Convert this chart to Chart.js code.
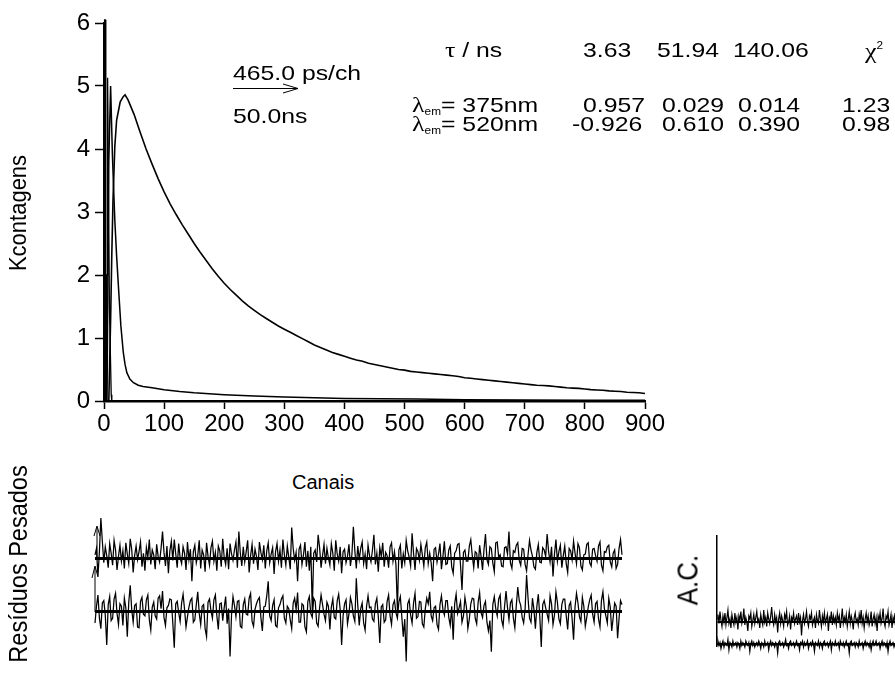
<!DOCTYPE html>
<html>
<head>
<meta charset="utf-8">
<script src="https://cdn.jsdelivr.net/npm/chart.js@4.4.1/dist/chart.umd.min.js"></script>
<style>
  body { margin: 0; width: 895px; height: 693px; overflow: hidden; background: #fff; position: relative;
         font-family: "Liberation Sans", Arial, sans-serif; color: #000; }
  canvas { position: absolute; }
  .t { position: absolute; font-size: 21px; line-height: 21px; white-space: nowrap;
       transform-origin: 0 0; transform: scaleX(1.18); }
  .t sub { font-size: 10px; vertical-align: -3px; }
  .t sup { font-size: 10px; vertical-align: 9px; }
  .g { font-family: "Liberation Serif", serif; font-size: 22px; }
  .v { position: absolute; font-size: 22px; line-height: 22px; white-space: nowrap;
       transform: translate(-50%, -50%) rotate(-90deg) scaleY(1.1); }
</style>
</head>
<body>
<canvas id="main" width="680" height="445" style="left:0;top:0"></canvas>
<canvas id="res" width="550" height="175" style="left:85px;top:500px"></canvas>
<canvas id="ac" width="205" height="140" style="left:690px;top:520px"></canvas>

<div class="v" style="left:18px;top:213px">Kcontagens</div>
<div class="t" style="left:292px;top:472px;transform:none;font-size:20px">Canais</div>
<div class="v" style="left:18px;top:564px;font-size:23.5px">Resíduos Pesados</div>
<div class="v" style="left:688px;top:580px;font-size:26px">A.C.</div>

<div class="t" style="left:233px;top:62px">465.0 ps/ch</div>
<div class="t" style="left:233px;top:105px">50.0ns</div>
<svg style="position:absolute;left:0;top:0" width="895" height="693">
  <g stroke="#000" stroke-width="1" fill="none">
    <path d="M233 88.5 H298 M283 84 L298 88.5 L283 93"/>
    <path d="M97 560 V527 M94 536 L97 526 L100 536"/>
    <path d="M95 612 V567 M92 578 L95 566 L98 577"/>
  </g>
</svg>

<div class="t" style="left:445px;top:39px"><span class="g">τ</span> / ns</div>
<div class="t" style="left:583px;top:39px">3.63</div>
<div class="t" style="left:657px;top:39px">51.94</div>
<div class="t" style="left:733px;top:39px">140.06</div>
<div class="t" style="left:865px;top:35px"><span class="g">χ</span><sup>2</sup></div>

<div class="t" style="left:412px;top:94px"><span class="g">λ</span><sub>em</sub>= 375nm</div>
<div class="t" style="left:583px;top:94px">0.957</div>
<div class="t" style="left:662px;top:94px">0.029</div>
<div class="t" style="left:738px;top:94px">0.014</div>
<div class="t" style="left:842px;top:94px">1.23</div>

<div class="t" style="left:412px;top:113px"><span class="g">λ</span><sub>em</sub>= 520nm</div>
<div class="t" style="left:572px;top:113px">-0.926</div>
<div class="t" style="left:662px;top:113px">0.610</div>
<div class="t" style="left:738px;top:113px">0.390</div>
<div class="t" style="left:842px;top:113px">0.98</div>

<script>
// decay curves (Kcontagens vs canal)
const irfChannels = [0, 1, 2, 3, 4, 5, 6, 7, 9, 12, 13, 900];
const irfCounts   = [0, 6.05, 6.05, 0, 0, 2.0, 5.13, 4.0, 1.5, 0.1, 0, 0];

const fastChannels = [5, 8, 11, 14, 18, 21, 24, 28, 32, 35, 38, 43, 49, 57, 65, 80, 100, 126, 150, 200, 250, 300, 350, 400, 460, 520, 600, 700, 800, 900];
const fastCounts   = [0, 3.8, 5.0, 3.9, 2.87, 2.3, 1.82, 1.2, 0.78, 0.58, 0.45, 0.35, 0.29, 0.25, 0.23, 0.21, 0.18, 0.15, 0.13, 0.10, 0.08, 0.065, 0.05, 0.04, 0.035, 0.03, 0.02, 0.015, 0.01, 0.01];

const slowChannels = [8, 11, 13, 15, 18, 21, 27, 32, 35,
  40, 50, 60, 70, 80, 90, 100, 110, 120, 130, 140, 150, 160, 170, 180, 190, 200,
  210, 220, 230, 240, 250, 260, 270, 280, 290, 300, 310, 320, 330, 340, 350, 360, 370, 380, 390, 400,
  410, 420, 430, 440, 450, 460, 470, 480, 490, 500, 510, 520, 530, 540, 550, 560, 570, 580, 590, 600,
  610, 620, 630, 640, 650, 660, 670, 680, 690, 700, 710, 720, 730, 740, 750, 760, 770, 780, 790, 800,
  810, 820, 830, 840, 850, 860, 870, 880, 890, 900];
const slowCounts = [0, 1.29, 2.34, 3.2, 4.04, 4.46, 4.75, 4.83, 4.86,
  4.78, 4.55, 4.27, 4.0, 3.76, 3.53, 3.32, 3.13, 2.96, 2.80, 2.65, 2.50, 2.36, 2.23, 2.10, 1.98, 1.87,
  1.77, 1.68, 1.59, 1.51, 1.44, 1.37, 1.31, 1.25, 1.19, 1.14, 1.09, 1.04, 0.99, 0.94, 0.89, 0.85, 0.81, 0.77, 0.74, 0.71,
  0.68, 0.65, 0.63, 0.60, 0.58, 0.56, 0.54, 0.52, 0.50, 0.49, 0.47, 0.46, 0.45, 0.44, 0.43, 0.42, 0.41, 0.40, 0.39, 0.37,
  0.36, 0.35, 0.34, 0.33, 0.32, 0.31, 0.30, 0.29, 0.28, 0.27, 0.26, 0.25, 0.245, 0.24, 0.23, 0.22, 0.21, 0.205, 0.20, 0.19,
  0.18, 0.175, 0.17, 0.16, 0.155, 0.15, 0.14, 0.135, 0.13, 0.12];

// weighted residuals, one value every 2.5 channels
const resStep = 2.5;
const resTop = [
  0.4, 1.2, -2.3, 0.8, 5.0, 2.1, -0.6, 1.4, 0.3, -1.2, 1.8, 0.6, -0.9, 2.2, 1.0, -1.5, 0.2, 1.6, -0.4, 0.9,
  -1.3, 1.9, 0.5, -0.7, 2.4, 1.1, -1.8, 0.3, 1.5, -0.2, 0.8, 2.0, -1.1, 0.6, -1.6, 1.3, 0.1, 2.3, -0.8, 1.0,
  0.4, -1.4, 1.7, 0.2, -0.5, 1.2, 3.3, 0.7, -1.0, 1.5, -1.9, 0.9, 2.1, -0.3, 2.3, 0.5, -1.2, 1.8, 0.0, -0.7,
  1.4, 0.6, -1.5, 2.0, -0.2, 1.1, -2.9, 0.8, 1.6, -0.6, 0.3, 2.2, -1.3, 1.0, 0.4, -1.7, 1.9, 0.2, -0.9, 1.3,
  2.1, -0.4, 0.7, -1.6, 1.5, 0.9, -1.1, 2.4, 0.1, -0.8, 1.2, -1.4, 1.8, 0.5, -0.3, 1.0, 2.0, -1.2, 3.3, 0.6,
  -1.0, 1.4, -0.5, 0.8, 2.2, -1.8, 0.3, 1.7, -0.7, 1.1, 0.2, -1.5, 2.0, 0.7, -0.2, 1.6, -1.3, 0.9, 1.9, -0.6,
  0.5, 1.3, -2.0, 0.8, 1.8, -0.4, 1.0, -1.2, 2.3, 0.4, -0.9, 1.5, 0.1, -1.4, 3.8, 1.2, -0.3, 0.7, -2.9, 1.1,
  1.6, -0.8, 0.4, 2.0, -1.1, 0.9, -1.6, 1.4, -6.5, 0.6, 1.0, -0.5, 2.9, 1.3, -1.2, 0.3, 1.7, -0.7, 1.2, 0.0,
  -0.9, 1.8, 0.6, -1.6, 2.2, 0.5, -0.4, 1.4, -1.9, 0.8, 1.1, -0.6, 0.2, 1.7, -1.0, 0.4, 3.9, 0.9, -1.3, 1.5,
  -0.2, 1.2, 2.0, -0.7, 0.5, -1.4, 1.6, 0.3, -0.5, 1.0, 2.9, -0.8, 0.6, -1.7, 1.3, 0.2, 1.9, -1.1, 0.7, 0.3,
  -1.2, 1.4, 1.9, -0.4, 0.8, -0.8, -6.5, 1.0, 1.6, -1.3, 0.5, -0.6, 2.2, 0.9, 0.1, -1.0, 3.1, 0.6, -1.5, 1.2,
  0.8, -0.3, 1.7, 0.4, -1.0, 1.3, 2.0, -0.7, 0.6, -0.6, -2.9, 1.1, 1.3, -0.5, 0.5, 1.8, -1.4, 0.2, 2.1, -0.8,
  -0.7, 1.0, 1.5, -1.1, -1.9, 0.6, 0.9, 1.7, 1.8, -0.9, -4.0, 0.7, 1.0, -0.4, -0.4, 1.5, 2.3, 0.3, -1.2, 0.8,
  0.6, -1.3, 1.6, 0.2, -1.5, 1.1, 3.0, -0.2, -0.8, 1.4, 1.2, -0.6, -1.7, 1.9, 2.0, 0.1, 0.4, -1.0, -1.1, 1.3,
  1.4, 0.5, 3.3, -0.6, -1.3, 0.9, 0.7, 1.6, 1.9, -0.3, -0.9, 1.2, 1.1, -0.8, -1.6, 0.4, 2.2, 1.0, 0.2, -1.1,
  -1.4, 0.7, 1.7, -0.5, -0.6, 1.3, 1.0, 0.2, 3.0, 0.8, -0.5, 1.4, -2.3, 0.5, 2.3, -0.4, 0.8, 1.6, -1.2, 0.3,
  1.5, -0.7, -1.8, 1.2, 0.9, -0.2, 2.1, 0.6, -0.7, 1.8, 1.3, -1.0, -1.5, 0.4, 0.5, 1.7, 1.9, -0.6, -1.0, 1.1,
  1.2, 0.3, -0.4, 1.5, 2.0, -0.9, -1.6, 0.8, 0.7, 1.4, 1.6, -0.5, -1.1, 0.6, 1.0, -1.3, -0.8, 1.2, 2.3, 0.4];
const resBottom = [
  -1.5, 0.6, 2.0, -0.9, -2.2, 1.0, 1.3, -0.5, -4.25, 0.8, 1.8, -1.2, -0.9, 1.5, 2.2, -0.3, -1.7, 0.9, 0.6, -1.8,
  1.6, 0.4, -3.2, 1.1, 3.2, 0.2, -1.4, 0.7, 0.9, -2.0, -2.1, 1.2, 1.7, -0.4, -0.6, 1.4, 2.0, -1.1, -2.4, 0.5,
  1.1, -0.6, -1.0, 1.6, 1.9, 0.3, 2.5, -0.8, -1.8, 0.4, 0.7, 1.5, 1.4, -1.5, -4.6, 0.9, 1.2, -0.2, -1.3, 1.0,
  2.1, 0.2, -2.0, -0.7, 0.5, 1.3, 1.6, -1.4, -1.1, 0.8, 2.4, -0.3, -1.7, 0.6, 0.8, -2.2, -3.2, 1.1, 1.5, 0.0,
  -0.9, 1.4, 2.0, -0.6, -2.3, 0.9, 1.0, -1.2, 0.4, 1.8, -1.6, 0.3, -5.7, -0.5, 1.8, 0.7, -0.7, 1.2, 1.3, -1.9,
  -2.1, 0.8, 1.5, -0.4, -0.5, 1.6, 2.2, -1.3, -1.9, 0.2, 0.9, 1.4, 1.7, -0.8, -2.5, 0.5, 0.6, 1.9, 3.7, -0.6,
  -1.2, 0.7, 1.4, -1.8, -2.0, 0.4, 0.8, 1.5, 1.9, -0.9, -1.5, 0.6, 0.3, -1.1, -2.2, 1.0, 1.6, 0.2, 2.3, -1.4,
  -1.4, 0.9, 0.7, -2.0, -2.6, 1.2, 1.8, -0.3, -0.8, 1.6, 1.2, -1.5, -1.9, 0.4, 2.0, 0.8, -0.4, -1.2, 1.1, 0.6,
  -2.3, 0.5, 1.5, -0.8, -1.0, 1.3, 2.1, 0.2, -4.25, -0.6, 0.9, 1.4, -1.6, -0.4, 1.7, 0.9, -0.6, -1.3, 4.1, 0.7,
  -1.8, 0.3, 1.0, -1.5, -2.4, 0.6, 1.9, 0.4, 0.5, -1.0, -1.3, 0.9, 1.6, -0.7, -4.0, 0.5, 0.8, -1.4, -1.1, 1.2,
  2.0, -0.6, -1.7, 0.8, 1.3, -0.2, -0.9, 1.1, 1.8, -0.7, -3.2, -1.0, -6.3, 0.9, 1.4, -0.5, -1.5, 1.0, 2.2, -0.9,
  -0.7, 1.2, 1.1, -1.6, -2.0, 0.3, 1.6, 0.9, 2.4, -0.6, -1.2, 0.4, 0.6, -1.7, -2.3, 0.8, 1.9, 0.2, -0.5, 1.3,
  1.3, -0.8, -1.8, 0.6, -3.6, 0.9, 2.1, -0.3, 0.4, 1.2, -1.4, -0.6, 1.7, 0.5, -2.2, -1.0, 0.9, 1.6, 1.5, -0.9,
  -1.6, 1.1, 2.3, -0.2, -0.8, 0.7, 1.2, -1.4, -2.5, -1.2, -5.1, 0.8, 1.8, 0.3, -0.6, 1.5, 2.0, -1.1, -1.9, 0.6,
  2.5, 0.4, -1.1, 1.0, 1.4, -0.9, -2.1, 0.7, 3.0, 1.3, 0.7, -0.8, -1.5, 0.3, 4.5, 1.6, -0.9, -1.4, 1.6, 0.2,
  -2.2, 0.6, 2.1, -0.7, -4.5, 0.8, 1.3, 0.4, -0.4, -1.2, 1.9, 0.9, -1.7, -0.5, 2.4, 1.1, -1.0, -1.6, 0.8, 1.5,
  1.5, -0.6, -2.3, 0.7, 1.1, -0.9, -3.6, 0.5, 2.2, 1.0, -0.7, -1.3, 1.7, 0.6, -1.9, -0.8, 0.5, 1.4, 2.0, -0.4,
  -1.4, 0.9, 1.2, -1.0, -2.0, 1.3, 2.4, 0.3, -0.6, -1.5, 1.6, 0.5, -2.5, -0.8, 1.0, 0.6, -3.4, -0.9, 1.3, 0.8];

// autocorrelation of the residuals (visible part), x 1000
const acTop = [
  2, 5, -1, 7, 1, -3, 4, 0, 6, -2, 3, 8, -1, 2, -4, 5, 1, -2, 6, 0,
  3, -5, 4, 1, 7, -1, 2, 9, -2, 3, 0, -6, 4, 2, 6, -3, 1, 5, -1, 3,
  7, 0, 2, -4, 5, 1, -2, 8, 0, 3, -3, 6, 2, -1, 4, 10, 1, -2, 5, 0,
  3, -7, 2, 6, -1, 4, 1, -3, 5, 2, 7, -2, 0, 4, -5, 3, 1, 6, -1, 2,
  4, -2, 6, 0, 3, -9, 1, 5, -1, 2, 7, 0, -3, 4, 2, 6, -2, 1, 3, -4,
  5, 1, -1, 8, 2, -3, 4, 0, 6, -1, 2, 5, -6, 3, 1, 7, -2, 4, 0, 3,
  -2, 6, 1, 4, -4, 2, 9, -1, 3, 0, 5, -3, 2, 7, -1, 4, 1, -5, 3, 6,
  0, 2, -2, 5, 1, 8, -1, 3, -4, 2, 6, 0, 4, -2, 1, 7, -3, 2, 5, -1,
  3, -6, 4, 1, 6, -1, 2, 9, 0, -3, 4, 2, 7, -2, 1, 5, -4, 3, 0, 6];
const acBottom = [
  0, 2, -1, 1, -3, 0, 2, -2, 1, 0, -1, 3, -4, 1, 0, -2, 2, -1, 0, 1,
  -2, 1, 0, -3, 2, -1, 1, 0, -2, 2, 0, -1, 1, -5, 0, 2, -1, 1, -2, 0,
  1, -1, 2, 0, -3, 1, 0, -2, 2, -1, 0, 1, -4, 0, 2, -1, 1, 0, -2, 1,
  0, -6, 1, 2, -1, 0, 1, -2, 0, 3, -1, 0, -3, 1, 2, -1, 0, 1, -2, 0,
  2, -1, 0, -4, 1, 0, 2, -2, 1, -1, 0, 2, -3, 0, 1, -1, 2, 0, -5, 1,
  0, -1, 2, -2, 1, 0, -3, 1, 2, -1, 0, 1, -2, 0, 2, -4, 1, 0, -1, 2,
  -1, 0, 1, -3, 2, 0, -1, 1, -2, 0, 2, -1, 0, -6, 1, 2, -1, 0, 1, -2,
  1, 0, -2, 2, -1, 0, 1, -3, 0, 2, -1, 1, 0, -2, 1, -4, 0, 2, -1, 0,
  2, -1, 0, 1, -3, 0, 2, -1, 1, 0, -2, 1, -5, 0, 2, -1, 0, 1, -2, 0];

const black = '#000';
const tickFont = { family: 'Liberation Sans', size: 24 };

function curve(xs, ys, yAxisID, width) {
  return {
    data: xs.map((x, i) => ({ x: x, y: ys[i] })),
    yAxisID: yAxisID,
    showLine: true,
    borderColor: black,
    borderWidth: width,
    pointRadius: 0,
    fill: false,
    clip: false
  };
}

function zeroLineAxis(min, max, width) {
  return {
    min: min, max: max, position: 'left',
    ticks: { display: false },
    grid: { drawOnChartArea: true, drawTicks: false, color: black, lineWidth: width },
    border: { display: false },
    afterBuildTicks: s => { s.ticks = [{ value: 0 }]; },
    afterFit: s => { s.width = 0; }
  };
}

const common = {
  responsive: false,
  animation: false,
  devicePixelRatio: 1,
  plugins: { legend: { display: false }, tooltip: { enabled: false } }
};

// main decay plot
new Chart(document.getElementById('main'), {
  type: 'scatter',
  data: {
    datasets: [
      curve(irfChannels, irfCounts, 'y', 1.3),
      curve(fastChannels, fastCounts, 'y', 1.5),
      curve(slowChannels, slowCounts, 'y', 1.6)
    ]
  },
  options: {
    ...common,
    layout: { padding: { left: 0, top: 23, right: 35, bottom: 0 } },
    scales: {
      x: {
        type: 'linear', min: 0, max: 900,
        ticks: { stepSize: 100, color: black, font: tickFont, padding: 1, maxRotation: 0 },
        grid: { drawOnChartArea: false, drawTicks: true, tickLength: 8, tickColor: black, tickWidth: 1.5 },
        border: { display: true, color: black, width: 2.5 },
        afterFit: s => { s.height = 44; }
      },
      y: {
        type: 'linear', min: 0, max: 6,
        ticks: { stepSize: 1, color: black, font: tickFont, padding: 5 },
        grid: { drawOnChartArea: false, drawTicks: true, tickLength: 9, tickColor: black, tickWidth: 1.5 },
        border: { display: true, color: black, width: 2.5 },
        afterFit: s => { s.width = 104; }
      }
    }
  }
});

// weighted residuals
new Chart(document.getElementById('res'), {
  type: 'scatter',
  data: {
    datasets: [
      curve(resTop.map((v, i) => i * resStep), resTop, 'yTop', 1.25),
      curve(resBottom.map((v, i) => i * resStep), resBottom, 'yBot', 1.25)
    ]
  },
  options: {
    ...common,
    layout: { padding: { left: 10, top: 5, right: 13, bottom: 10 } },
    scales: {
      x: { type: 'linear', display: false, min: 0, max: (resTop.length - 1) * resStep },
      yTop: zeroLineAxis(-13.375, 6.625, 3),
      yBot: zeroLineAxis(-6.75, 13.25, 3)
    }
  }
});

// autocorrelation
const acAxisTop = zeroLineAxis(-16, 57.3, 2);
acAxisTop.border = { display: true, color: black, width: 1.5 };
new Chart(document.getElementById('ac'), {
  type: 'scatter',
  data: {
    datasets: [
      curve(acTop.map((v, i) => i), acTop, 'yA', 1.2),
      curve(acBottom.map((v, i) => i), acBottom, 'yB', 1.2)
    ]
  },
  options: {
    ...common,
    layout: { padding: { left: 27, top: 16, right: 0, bottom: 14 } },
    scales: {
      x: { type: 'linear', display: false, min: 0, max: acTop.length - 1 },
      yA: acAxisTop,
      yB: zeroLineAxis(-1.33, 72, 2.5)
    }
  }
});
</script>
</body>
</html>
